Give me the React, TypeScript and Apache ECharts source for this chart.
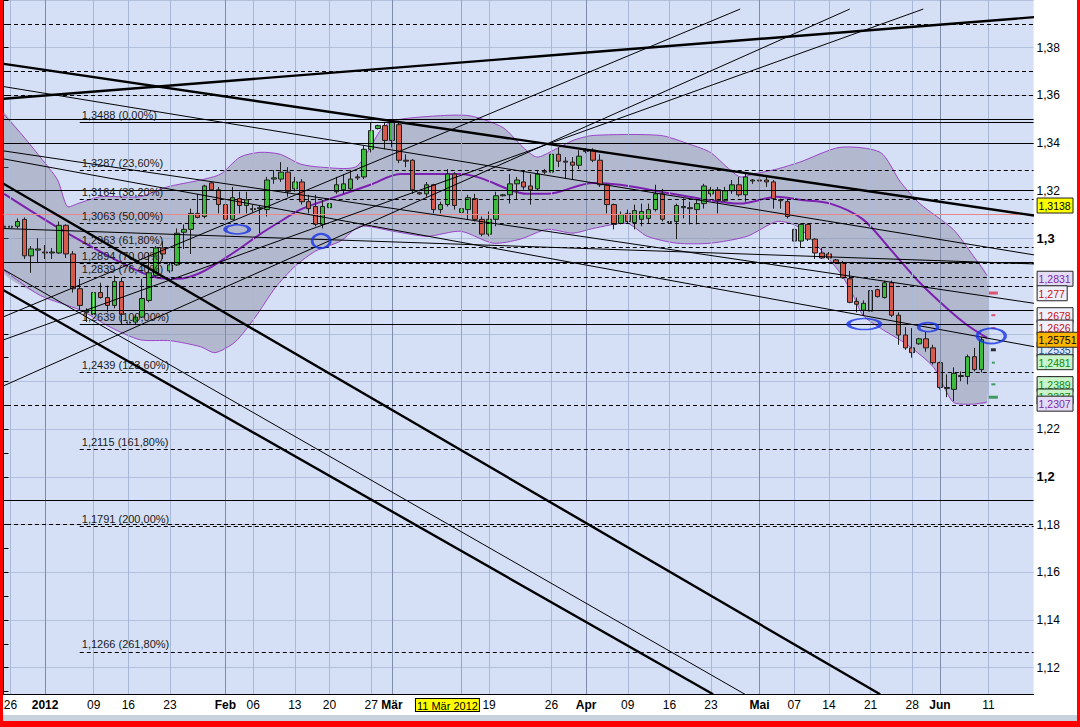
import React, { useEffect, useRef } from "react";
import * as echarts from "echarts";

const FONT = "'Liberation Sans', Arial, Helvetica, sans-serif";

// price scale
const Y_MIN = 1.1;
const Y_MAX = 1.4;
// bar slots on the time axis (one slot per trading session)
const SLOT_COUNT = 149;
const X_MIN = -0.5;
const X_MAX = 148.5;

// candles: [open, close, low, high]
const candles: number[][] = [
  [1.3051, 1.3047, 1.303, 1.3067], [1.3047, 1.3051, 1.3034, 1.3063], [1.3051, 1.3071, 1.3042, 1.3084],
  [1.308, 1.2927, 1.2914, 1.3088], [1.2927, 1.2956, 1.2856, 1.2968], [1.2951, 1.2956, 1.2898, 1.3001],
  [1.2943, 1.2939, 1.2914, 1.2972], [1.2939, 1.2943, 1.2914, 1.296], [1.2939, 1.3055, 1.2935, 1.3071],
  [1.3055, 1.2935, 1.2918, 1.3059], [1.2935, 1.2789, 1.2773, 1.2947], [1.2789, 1.2719, 1.2699, 1.2831],
  [1.269, 1.2695, 1.2649, 1.2707], [1.2682, 1.2773, 1.2678, 1.2794], [1.2773, 1.2752, 1.2748, 1.2814],
  [1.2752, 1.2719, 1.269, 1.2802], [1.2719, 1.2819, 1.2707, 1.2844], [1.2819, 1.2682, 1.2637, 1.2835],
  [1.2645, 1.2649, 1.2637, 1.2657], [1.2649, 1.267, 1.2641, 1.2678], [1.267, 1.2748, 1.2666, 1.2831],
  [1.274, 1.2856, 1.2732, 1.2939], [1.2844, 1.296, 1.2835, 1.2968], [1.296, 1.2935, 1.2914, 1.2989],
  [1.2864, 1.2889, 1.2856, 1.2898], [1.2889, 1.3022, 1.2885, 1.3042], [1.3026, 1.3038, 1.2956, 1.3059],
  [1.3038, 1.3105, 1.2935, 1.3125], [1.3105, 1.3088, 1.3084, 1.3187], [1.3092, 1.322, 1.3084, 1.3225],
  [1.3233, 1.3204, 1.32, 1.3237], [1.3204, 1.3142, 1.3105, 1.3216], [1.3142, 1.308, 1.3071, 1.3216],
  [1.308, 1.3171, 1.308, 1.3216], [1.3167, 1.3138, 1.3105, 1.3196], [1.3138, 1.3162, 1.3105, 1.3196],
  [1.3121, 1.3125, 1.3109, 1.3142], [1.3125, 1.3129, 1.3022, 1.3138], [1.3121, 1.3245, 1.3092, 1.3258],
  [1.3249, 1.3254, 1.3229, 1.3287], [1.3249, 1.3278, 1.3237, 1.332], [1.3278, 1.3196, 1.3175, 1.3299],
  [1.3208, 1.3237, 1.3196, 1.3258], [1.3237, 1.3154, 1.3142, 1.3249], [1.3154, 1.3125, 1.3105, 1.3183],
  [1.3134, 1.3059, 1.3051, 1.3183], [1.3059, 1.3134, 1.3042, 1.3162], [1.3129, 1.3146, 1.3121, 1.3167],
  [1.3196, 1.3225, 1.3187, 1.3258], [1.3204, 1.3229, 1.3187, 1.327], [1.3208, 1.3249, 1.3204, 1.3287],
  [1.3258, 1.3254, 1.3245, 1.327], [1.3258, 1.3374, 1.3249, 1.3391], [1.3374, 1.3452, 1.3361, 1.3486],
  [1.3461, 1.3473, 1.3457, 1.3477], [1.3473, 1.3411, 1.3374, 1.3486], [1.3411, 1.3486, 1.3382, 1.3494],
  [1.3477, 1.3328, 1.3316, 1.3494], [1.3328, 1.3324, 1.3299, 1.3353], [1.3328, 1.3204, 1.3187, 1.3332],
  [1.3192, 1.3187, 1.3183, 1.3196], [1.3187, 1.3225, 1.3175, 1.3237], [1.3225, 1.3121, 1.3105, 1.3229],
  [1.3121, 1.3142, 1.3105, 1.3154], [1.3142, 1.327, 1.3134, 1.3291], [1.327, 1.3138, 1.3121, 1.3278],
  [1.3109, 1.3125, 1.3105, 1.3129], [1.3121, 1.3171, 1.308, 1.3183], [1.3167, 1.308, 1.3071, 1.3187],
  [1.308, 1.3018, 1.3009, 1.3092], [1.3018, 1.308, 1.3009, 1.3113], [1.308, 1.3179, 1.3051, 1.3196],
  [1.3179, 1.3183, 1.3176, 1.3187], [1.3183, 1.3229, 1.3146, 1.327], [1.3229, 1.3245, 1.3162, 1.3258],
  [1.3237, 1.3216, 1.3204, 1.3287], [1.322, 1.3204, 1.3142, 1.327], [1.3208, 1.327, 1.3204, 1.3287],
  [1.3283, 1.3278, 1.327, 1.3291], [1.3278, 1.3353, 1.3196, 1.3391], [1.3353, 1.3324, 1.3299, 1.3382],
  [1.3324, 1.332, 1.3249, 1.3341], [1.332, 1.3307, 1.3249, 1.3341], [1.3307, 1.3345, 1.3291, 1.337],
  [1.337, 1.3365, 1.3357, 1.3378], [1.337, 1.3328, 1.332, 1.3378], [1.3328, 1.3225, 1.3216, 1.3353],
  [1.3225, 1.3142, 1.3105, 1.3229], [1.3142, 1.3059, 1.3038, 1.3146], [1.3063, 1.31, 1.3059, 1.3113],
  [1.3105, 1.3071, 1.3063, 1.3121], [1.3067, 1.3117, 1.3038, 1.3142], [1.308, 1.3113, 1.3051, 1.3146],
  [1.3084, 1.3121, 1.3063, 1.3146], [1.3121, 1.3187, 1.3113, 1.3225], [1.3187, 1.308, 1.3071, 1.3208],
  [1.3067, 1.3071, 1.3059, 1.308], [1.3071, 1.3138, 1.2997, 1.3146], [1.3129, 1.3134, 1.3084, 1.3167],
  [1.3129, 1.3125, 1.3059, 1.3154], [1.3121, 1.3146, 1.3059, 1.3162], [1.3146, 1.322, 1.3125, 1.3229],
  [1.3187, 1.3204, 1.3175, 1.3216], [1.3204, 1.3158, 1.3105, 1.3216], [1.3158, 1.32, 1.3154, 1.3216],
  [1.32, 1.3225, 1.3187, 1.3245], [1.3225, 1.3183, 1.3175, 1.3258], [1.3183, 1.3258, 1.3154, 1.327],
  [1.3241, 1.3245, 1.3229, 1.3249], [1.3245, 1.3241, 1.3208, 1.3258], [1.3245, 1.3237, 1.3216, 1.3258],
  [1.3237, 1.3167, 1.3125, 1.3245], [1.3162, 1.3158, 1.3125, 1.3167], [1.3154, 1.3092, 1.3084, 1.3162],
  [1.3038, 1.2989, 1.2981, 1.3051], [1.2989, 1.3059, 1.296, 1.3063], [1.3059, 1.2997, 1.2989, 1.3063],
  [1.2997, 1.2939, 1.2914, 1.3001], [1.2939, 1.2918, 1.2914, 1.296], [1.2935, 1.2918, 1.291, 1.2943],
  [1.291, 1.2898, 1.2893, 1.2914], [1.2898, 1.2835, 1.2831, 1.2906], [1.2831, 1.2732, 1.2728, 1.2864],
  [1.2736, 1.2724, 1.269, 1.2752], [1.2699, 1.2728, 1.2678, 1.274], [1.2695, 1.2781, 1.2686, 1.2789],
  [1.2785, 1.2756, 1.2752, 1.2789], [1.2752, 1.2814, 1.2748, 1.2823], [1.2814, 1.2678, 1.267, 1.2823],
  [1.2678, 1.2595, 1.2554, 1.269], [1.2595, 1.2541, 1.2533, 1.2628], [1.2541, 1.2521, 1.25, 1.2624],
  [1.2558, 1.2579, 1.2554, 1.2583], [1.2579, 1.2541, 1.2525, 1.2608], [1.2541, 1.2479, 1.2471, 1.2554],
  [1.2479, 1.2375, 1.2367, 1.2483], [1.2371, 1.2375, 1.2334, 1.243], [1.2367, 1.2434, 1.2318, 1.2459],
  [1.2421, 1.2425, 1.2401, 1.2442], [1.2421, 1.2504, 1.2388, 1.2513], [1.2504, 1.245, 1.2442, 1.2541],
  [1.245, 1.2575, 1.2438, 1.2587],
];

// Bollinger bands: [bar, price]
const middleBand: number[][] = [
  [0.1, 1.3187], [9.2, 1.3022], [18.7, 1.2873], [22.2, 1.2835], [25.1, 1.2831], [28.4, 1.2856],
  [33.1, 1.2939], [37, 1.3018], [39.9, 1.3071], [42.8, 1.3121], [47.1, 1.3167], [52.9, 1.3225],
  [57.2, 1.327], [65.9, 1.327], [68.7, 1.3254], [75.5, 1.3187], [78.4, 1.3187], [85, 1.3233],
  [88.9, 1.3225], [94.7, 1.3196], [100.4, 1.3167], [106.2, 1.3146], [111.5, 1.3175], [114.8, 1.3162],
  [119.2, 1.3146], [123.9, 1.308], [127.8, 1.2956], [132.1, 1.2814], [136, 1.2707], [138.9, 1.2637],
  [141.8, 1.2583],
];
const upperBand: number[][] = [
  [-0.43, 1.3535], [2.4, 1.3444], [5.3, 1.3341], [7.8, 1.3245], [9.2, 1.3134], [10.7, 1.3146],
  [14, 1.3175], [19.7, 1.3175], [23.6, 1.3216], [28.4, 1.3245], [31.3, 1.327], [34.1, 1.3341],
  [37, 1.3361], [39.9, 1.3353], [42.8, 1.3312], [45.7, 1.3299], [50.7, 1.3299], [52.9, 1.3382],
  [54.3, 1.3452], [56.2, 1.3494], [62.5, 1.3514], [67.3, 1.3514], [72, 1.3465], [74.9, 1.3382],
  [76.9, 1.3341], [79.3, 1.337], [82.1, 1.3411], [85, 1.3432], [94.7, 1.3432], [99, 1.3394],
  [101.9, 1.3361], [104.3, 1.3299], [106.2, 1.3258], [108.1, 1.327], [111.5, 1.3291], [114.8, 1.332],
  [120.6, 1.3382], [126.4, 1.3361], [129.3, 1.3237], [132.1, 1.3146], [136.9, 1.3038], [139.8, 1.2927],
  [141.8, 1.2844],
];
const lowerBand: number[][] = [
  [-0.43, 1.2877], [5.3, 1.2761], [11.1, 1.2699], [15.4, 1.2628], [19.7, 1.2575], [24.1, 1.2571],
  [28.4, 1.2546], [30.5, 1.2521], [33.4, 1.2566], [36.3, 1.267], [39.2, 1.2794], [42.1, 1.2885],
  [45, 1.2947], [48.6, 1.2989], [51.4, 1.3051], [56.2, 1.303], [61.1, 1.3009], [65.9, 1.303],
  [70.6, 1.298], [74.5, 1.2997], [78.4, 1.3038], [82.1, 1.3022], [85, 1.3042], [89.9, 1.3063],
  [92.8, 1.3009], [97.1, 1.298], [101.9, 1.298], [107.2, 1.3009], [111.5, 1.3071], [114.4, 1.3051],
  [117.7, 1.2956], [120.6, 1.2856], [122.5, 1.2761], [123.9, 1.2678], [126.4, 1.2624], [130.3, 1.2554],
  [134.1, 1.2459], [136.9, 1.2314], [139.8, 1.2305], [141.8, 1.2314],
];

// time axis labels
const dateBars = [1, 6, 13, 18, 24, 32, 36, 42, 47, 53, 56, 70, 79, 84, 90, 96, 102, 109, 114, 119, 125, 131, 135, 142];
const dateTexts = ["26", "2012", "09", "16", "23", "Feb", "06", "13", "20", "27", "Mär", "19", "26", "Apr", "09", "16", "23", "Mai", "07", "14", "21", "28", "Jun", "11"];
const monthBars = [6, 32, 56, 84, 109, 135];
const cursorBar = 66;
const cursorDateBar = 64;
const cursorDateText = "11 Mär 2012";
const cursorPrice = 1.3138;

// Fibonacci retracement
const fibStartBar = 11;
const fibPrices = [1.3488, 1.3287, 1.3164, 1.3063, 1.2963, 1.2894, 1.2839, 1.2639, 1.2439, 1.2115, 1.1791, 1.1266];
const fibPercents = [0, 23.6, 38.2, 50, 61.8, 70, 76.4, 100, 123.6, 161.8, 200, 261.8];

// horizontal support / resistance lines
const solidLevels = [1.3489, 1.3427, 1.3171, 1.2889, 1.2651, 1.1891];
const dashedLevels = [1.3858, 1.3697, 1.3586, 1.2876, 1.2835, 1.2298, 1.1767];

// trend lines: [bar1, price1, bar2, price2]
const thickTrendLines: number[][] = [
  [-0.43, 1.3585, 148.56, 1.3928],
  [-0.43, 1.3734, 148.56, 1.3096],
  [-0.43, 1.3237, 126.37, 1.1088],
  [-0.43, 1.279, 102.3, 1.1088],
];
const thinTrendLines: number[][] = [
  [-0.43, 1.2877, 106.9, 1.1088],
  [-0.43, 1.2666, 106.2, 1.3962],
  [-0.43, 1.2376, 122.0, 1.3962],
  [-0.43, 1.257, 132.6, 1.3962],
  [-0.43, 1.3369, 148.56, 1.2728],
  [-0.43, 1.3042, 148.56, 1.2893],
  [-0.43, 1.3336, 148.56, 1.2546],
  [-0.43, 1.3639, 148.56, 1.2931],
];

// price tags at the right border (last one is the current price)
const tagValues = [1.3138, 1.2831, 1.277, 1.2678, 1.2626, 1.2535, 1.2481, 1.2389, 1.2337, 1.2307, 1.25751];
const tagStyles = [
  { fill: "#000000", bg: "#ffff00" },
  { fill: "#7a2aa8", bg: "#e4dcf6" },
  { fill: "#cc1111", bg: "#eef0fb" },
  { fill: "#cc1111", bg: "#eef0fb" },
  { fill: "#cc1111", bg: "#eef0fb" },
  { fill: "#2b4f9a", bg: "#dde8f6" },
  { fill: "#118811", bg: "#c9f3c9" },
  { fill: "#118811", bg: "#c9f3c9" },
  { fill: "#118811", bg: "#c9f3c9" },
  { fill: "#7a2aa8", bg: "#e4dcf6" },
  { fill: "#000000", bg: "#ffb400" },
];

// level dashes right of the last candle
const levelDashBar = 142.7;
const levelDashValues = [1.2771, 1.2678, 1.2624, 1.2533, 1.2479, 1.2388, 1.2334];
const levelDashColors = ["#e0304a", "#e0304a", "#e0304a", "#000000", "#1a8a3a", "#1a8a3a", "#1a8a3a"];
const levelDashSizes = [[9, 3], [4, 2], [4, 2], [5, 3], [3, 2], [4, 2], [9, 3]];

// hand drawn blue marks: [bar, price]
const blueMarks: number[][] = [[33.7, 1.3038], [45.8, 1.2989], [124.1, 1.2641], [133.3, 1.2628], [142.4, 1.2591]];
const blueMarkSizes = [[24, 9], [18, 14], [32, 11], [19, 9], [28, 15]];

const fmt = (v: number) => String(v).replace(".", ",");

function buildOption(): any {
  const categories = Array.from({ length: SLOT_COUNT }, (_, i) => String(i));
  const labelMap = new Map<number, string>();
  dateBars.forEach((b, i) => labelMap.set(b, dateTexts[i]));
  labelMap.set(cursorDateBar, cursorDateText);
  const boldSet = new Set(["2012", "Feb", "Mär", "Apr", "Mai", "Jun"]);
  const tickSet = new Set(dateBars);

  const gridLines = [
    ...dateBars.filter((b) => !monthBars.includes(b)).map((b) => ({ xAxis: b, lineStyle: { color: "#a9b8d6", width: 1, type: "solid" } })),
    ...monthBars.map((b) => ({ xAxis: b, lineStyle: { color: "#7f8cab", width: 1, type: "solid" } })),
  ];

  const levelLines = [
    ...solidLevels.map((v) => ({ yAxis: v, lineStyle: { color: "#000", width: 1, type: "solid" } })),
    ...dashedLevels.map((v) => ({ yAxis: v, lineStyle: { color: "#000", width: 1, type: [4, 3] } })),
    { yAxis: cursorPrice, lineStyle: { color: "#e9888a", width: 1, type: "solid" } },
    { xAxis: cursorBar, lineStyle: { color: "#e9888a", width: 1, type: "solid" } },
  ];

  const fibLines = fibPrices.map((v, i) => {
    const solid = fibPercents[i] === 0 || fibPercents[i] === 100;
    return [
      {
        coord: [fibStartBar, v],
        lineStyle: { color: "#000", width: 1, type: solid ? "solid" : [4, 3] },
        label: {
          show: true,
          position: "insideStartTop",
          distance: 2,
          formatter: `${fmt(v)} (${fibPercents[i].toFixed(2).replace(".", ",")}%)`,
          color: "#1a1a1a",
          fontSize: 11,
          fontFamily: FONT,
        },
      },
      { coord: [X_MAX, v] },
    ];
  });

  const trendSeries = [
    ...thickTrendLines.map((l) => ({ w: 2.4, l })),
    ...thinTrendLines.map((l) => ({ w: 1, l })),
  ].map(({ w, l }) => ({
    type: "line",
    xAxisIndex: 1,
    yAxisIndex: 0,
    data: [[l[0], l[1]], [l[2], l[3]]],
    symbol: "none",
    silent: true,
    z: 6,
    lineStyle: { color: "#000", width: w },
  }));

  return {
    animation: false,
    backgroundColor: "#ffffff",
    grid: {
      left: -0.47,
      right: 46.4,
      top: -9.3,
      bottom: 11.7,
      show: true,
      backgroundColor: "#d5e0f7",
      borderWidth: 0,
    },
    xAxis: [
      {
        type: "category",
        data: categories,
        boundaryGap: true,
        position: "bottom",
        offset: -21.3,
        z: 20,
        axisLine: { onZero: false, lineStyle: { color: "#000", width: 1 } },
        axisTick: { alignWithLabel: true, length: 4, interval: (i: number) => tickSet.has(i), lineStyle: { color: "#000" } },
        axisLabel: {
          interval: (i: number) => labelMap.has(i),
          margin: 5,
          color: "#000",
          fontSize: 12,
          fontFamily: FONT,
          formatter: (_v: string, i: number) => {
            const t = labelMap.get(i) || "";
            if (t === cursorDateText) return `{hl|${t}}`;
            return boldSet.has(t) ? `{b|${t}}` : t;
          },
          rich: {
            b: { fontWeight: "bold", fontSize: 12, fontFamily: FONT, color: "#000" },
            hl: { backgroundColor: "#ffff00", borderColor: "#000", borderWidth: 1, padding: [1, 1, 0, 1], fontSize: 11, fontFamily: FONT, color: "#000" },
          },
        },
        splitLine: { show: false },
      },
      { type: "value", min: X_MIN, max: X_MAX, show: false },
    ],
    yAxis: [
      {
        type: "value",
        min: Y_MIN,
        max: Y_MAX,
        interval: 0.02,
        position: "right",
        axisLine: { show: true, lineStyle: { color: "#000", width: 1 } },
        axisTick: { show: true, length: 5, lineStyle: { color: "#000" } },
        minorTick: { show: true, splitNumber: 2, length: 5, lineStyle: { color: "#000" } },
        splitLine: { show: true, lineStyle: { color: "#b3c1df", width: 1 } },
        axisLabel: {
          margin: 3,
          color: "#000",
          fontSize: 12,
          fontFamily: FONT,
          formatter: (v: number) => {
            if (v < 1.115 || v > 1.395) return "";
            const r = Math.round(v * 100) / 100;
            const s = fmt(r);
            return Math.abs(r - 1.3) < 1e-6 || Math.abs(r - 1.2) < 1e-6 ? `{b|${s}}` : s;
          },
          rich: { b: { fontWeight: "bold", fontSize: 13, fontFamily: FONT, color: "#000" } },
        },
      },
    ],
    series: [
      {
        type: "line",
        xAxisIndex: 1,
        yAxisIndex: 0,
        data: [],
        silent: true,
        z: 1,
        markLine: { symbol: ["none", "none"], silent: true, animation: false, label: { show: false }, emphasis: { disabled: true }, data: gridLines },
      },
      {
        type: "custom",
        xAxisIndex: 1,
        yAxisIndex: 0,
        data: [[0, 1.3]],
        silent: true,
        z: 2,
        renderItem: (params: any, api: any) => {
          if (params.dataIndex !== 0) return null;
          const up = upperBand.map((p) => api.coord(p));
          const lo = lowerBand.map((p) => api.coord(p));
          return {
            type: "group",
            children: [
              { type: "polygon", shape: { points: up.concat(lo.slice().reverse()), smooth: 0.25 }, style: { fill: "rgba(125,125,145,0.40)", stroke: "none" } },
              { type: "polyline", shape: { points: up, smooth: 0.25 }, style: { stroke: "#9b45c8", lineWidth: 1, fill: "none" } },
              { type: "polyline", shape: { points: lo, smooth: 0.25 }, style: { stroke: "#9b45c8", lineWidth: 1, fill: "none" } },
            ],
          };
        },
      },
      {
        type: "line",
        xAxisIndex: 1,
        yAxisIndex: 0,
        data: middleBand,
        smooth: 0.3,
        symbol: "none",
        silent: true,
        z: 3,
        lineStyle: { color: "#7d1fb0", width: 2 },
      },
      {
        type: "line",
        xAxisIndex: 1,
        yAxisIndex: 0,
        data: [],
        silent: true,
        z: 5,
        markLine: { symbol: ["none", "none"], silent: true, animation: false, label: { show: false }, emphasis: { disabled: true }, data: [...levelLines, ...fibLines] },
      },
      {
        type: "candlestick",
        xAxisIndex: 0,
        yAxisIndex: 0,
        data: candles,
        barWidth: 5,
        silent: true,
        z: 4,
        itemStyle: { color: "#3dbb3d", color0: "#d85a4c", borderColor: "#1e1e1e", borderColor0: "#1e1e1e", borderWidth: 1 },
      },
      ...trendSeries,
      {
        type: "scatter",
        xAxisIndex: 1,
        yAxisIndex: 0,
        data: levelDashValues.map((v) => [levelDashBar, v]),
        symbol: "rect",
        symbolSize: (_v: any, p: any) => levelDashSizes[p.dataIndex],
        silent: true,
        z: 7,
        itemStyle: { color: (p: any) => levelDashColors[p.dataIndex] },
      },
      {
        type: "scatter",
        xAxisIndex: 1,
        yAxisIndex: 0,
        data: blueMarks,
        symbol: "circle",
        symbolSize: (_v: any, p: any) => blueMarkSizes[p.dataIndex],
        silent: true,
        z: 8,
        itemStyle: { color: "rgba(0,0,0,0)", borderColor: "#1733e6", borderWidth: 2.5 },
      },
      {
        type: "custom",
        xAxisIndex: 1,
        yAxisIndex: 0,
        data: tagValues.map((v) => [X_MAX, v]),
        clip: false,
        silent: true,
        z: 9,
        renderItem: (params: any, api: any) => {
          const i = params.dataIndex;
          const pt = api.coord([api.value(0), api.value(1)]);
          const text = fmt(tagValues[i]);
          const w = Math.min((text.length - 1) * 5.8 + 2.9 + 4, 41);
          const x = pt[0] + 3.5;
          const y = pt[1];
          const st = tagStyles[i];
          return {
            type: "group",
            children: [
              { type: "rect", shape: { x: x, y: y - 7.5, width: w, height: 15 }, style: { fill: st.bg, stroke: "#222", lineWidth: 1 } },
              { type: "text", style: { text, x: x + 1.5, y: y + 0.5, fill: st.fill, fontSize: 10.5, fontFamily: FONT, align: "left", verticalAlign: "middle" } },
            ],
          };
        },
      },
    ],
    graphic: [
      { type: "rect", shape: { x: 0, y: 695, width: 1076, height: 20 }, style: { fill: "#ffffff" }, z: 10, silent: true },
      { type: "rect", shape: { x: 0, y: 715, width: 1080, height: 7 }, style: { fill: "#c8d2dc" }, z: 10, silent: true },
      { type: "rect", shape: { x: 0, y: 0, width: 3, height: 727 }, style: { fill: "#ff0000" }, z: 30, silent: true },
      { type: "rect", shape: { x: 1077, y: 0, width: 3, height: 727 }, style: { fill: "#ff0000" }, z: 30, silent: true },
      { type: "rect", shape: { x: 0, y: 721, width: 1080, height: 6 }, style: { fill: "#ff0000" }, z: 30, silent: true },
    ],
  };
}

export default function App() {
  const ref = useRef<HTMLDivElement>(null);
  useEffect(() => {
    if (!ref.current) return;
    const chart = echarts.init(ref.current, null, { renderer: "svg" });
    chart.setOption(buildOption());
    return () => chart.dispose();
  }, []);
  return <div ref={ref} style={{ position: "absolute", left: 0, top: 0, width: 1080, height: 727 }} />;
}
